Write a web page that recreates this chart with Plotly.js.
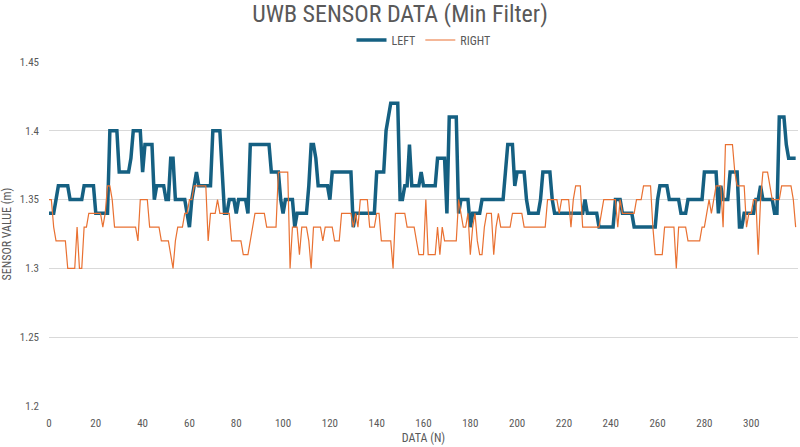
<!DOCTYPE html>
<html>
<head>
<meta charset="utf-8">
<script src="https://cdn.plot.ly/plotly-3.0.1.min.js"></script>
<style>
html,body{margin:0;padding:0;background:#fff;}
#chart{width:800px;height:447px;}
</style>
</head>
<body>
<div id="chart"></div>
<script>
// Series values (m), one per sample index
const leftValues = [
1.34,1.34,1.34,1.35,1.36,1.36,1.36,1.36,1.36,1.35,
1.35,1.35,1.35,1.35,1.35,1.36,1.36,1.36,1.36,1.36,
1.34,1.34,1.34,1.34,1.34,1.34,1.40,1.40,1.40,1.40,
1.37,1.37,1.37,1.37,1.37,1.38,1.40,1.40,1.40,1.40,
1.37,1.39,1.39,1.39,1.39,1.35,1.36,1.36,1.36,1.36,
1.35,1.35,1.38,1.38,1.35,1.35,1.35,1.35,1.35,1.34,
1.33,1.35,1.36,1.37,1.36,1.36,1.36,1.36,1.36,1.36,
1.40,1.40,1.40,1.40,1.37,1.34,1.34,1.35,1.35,1.35,
1.34,1.35,1.35,1.35,1.35,1.34,1.39,1.39,1.39,1.39,
1.39,1.39,1.39,1.39,1.39,1.37,1.37,1.37,1.37,1.35,
1.34,1.35,1.35,1.35,1.35,1.33,1.34,1.34,1.34,1.34,
1.34,1.36,1.39,1.39,1.38,1.36,1.36,1.36,1.36,1.36,
1.35,1.37,1.37,1.37,1.37,1.37,1.37,1.37,1.37,1.37,
1.33,1.34,1.34,1.34,1.34,1.34,1.34,1.34,1.34,1.34,
1.37,1.37,1.37,1.37,1.40,1.41,1.42,1.42,1.42,1.42,
1.35,1.35,1.36,1.36,1.39,1.36,1.36,1.36,1.36,1.37,
1.36,1.36,1.36,1.36,1.36,1.36,1.38,1.38,1.38,1.38,
1.34,1.41,1.41,1.41,1.41,1.34,1.35,1.35,1.35,1.35,
1.33,1.34,1.34,1.34,1.34,1.35,1.35,1.35,1.35,1.35,
1.35,1.35,1.35,1.35,1.35,1.37,1.39,1.39,1.39,1.36,
1.37,1.37,1.37,1.37,1.35,1.34,1.34,1.34,1.34,1.34,
1.35,1.37,1.37,1.37,1.37,1.35,1.34,1.34,1.34,1.34,
1.34,1.34,1.34,1.34,1.34,1.34,1.34,1.34,1.34,1.35,
1.34,1.34,1.34,1.34,1.34,1.33,1.33,1.33,1.33,1.33,
1.33,1.33,1.35,1.35,1.35,1.34,1.34,1.34,1.34,1.34,
1.33,1.33,1.33,1.33,1.33,1.33,1.33,1.33,1.33,1.33,
1.35,1.36,1.36,1.36,1.36,1.35,1.35,1.35,1.35,1.35,
1.34,1.34,1.34,1.35,1.35,1.35,1.35,1.35,1.35,1.35,
1.37,1.37,1.37,1.37,1.37,1.37,1.34,1.36,1.35,1.35,
1.35,1.37,1.37,1.37,1.37,1.33,1.33,1.34,1.34,1.34,
1.34,1.34,1.35,1.35,1.36,1.35,1.35,1.35,1.35,1.35,
1.34,1.34,1.41,1.41,1.41,1.39,1.38,1.38,1.38,1.38
];

const rightValues = [
1.35,1.35,1.33,1.32,1.32,1.32,1.32,1.32,1.30,1.30,
1.30,1.30,1.33,1.30,1.30,1.33,1.33,1.34,1.34,1.34,
1.34,1.34,1.34,1.33,1.34,1.36,1.36,1.35,1.33,1.33,
1.33,1.33,1.33,1.33,1.33,1.33,1.33,1.33,1.32,1.35,
1.35,1.35,1.35,1.33,1.33,1.33,1.33,1.33,1.32,1.32,
1.32,1.32,1.31,1.30,1.32,1.33,1.33,1.33,1.34,1.34,
1.35,1.35,1.36,1.36,1.36,1.36,1.36,1.36,1.32,1.34,
1.34,1.34,1.35,1.34,1.34,1.34,1.34,1.34,1.32,1.32,
1.32,1.32,1.32,1.31,1.31,1.31,1.32,1.33,1.34,1.34,
1.34,1.34,1.34,1.33,1.33,1.33,1.33,1.33,1.37,1.37,
1.37,1.37,1.37,1.30,1.33,1.33,1.33,1.31,1.33,1.33,
1.33,1.32,1.30,1.33,1.33,1.33,1.33,1.32,1.33,1.33,
1.33,1.33,1.32,1.32,1.32,1.34,1.34,1.34,1.34,1.34,
1.33,1.34,1.33,1.35,1.35,1.35,1.35,1.33,1.33,1.33,
1.34,1.34,1.32,1.32,1.32,1.32,1.32,1.30,1.34,1.34,
1.34,1.34,1.34,1.33,1.33,1.33,1.33,1.32,1.31,1.31,
1.31,1.35,1.31,1.31,1.31,1.31,1.33,1.31,1.33,1.32,
1.32,1.32,1.32,1.32,1.32,1.35,1.34,1.33,1.33,1.34,
1.31,1.33,1.34,1.32,1.31,1.31,1.33,1.34,1.34,1.34,
1.31,1.33,1.34,1.33,1.33,1.33,1.33,1.33,1.34,1.34,
1.34,1.34,1.34,1.33,1.33,1.33,1.33,1.33,1.33,1.33,
1.33,1.33,1.33,1.35,1.35,1.35,1.35,1.35,1.34,1.35,
1.35,1.35,1.35,1.33,1.35,1.36,1.36,1.36,1.33,1.33,
1.33,1.33,1.33,1.33,1.33,1.33,1.34,1.35,1.35,1.35,
1.35,1.35,1.35,1.33,1.35,1.34,1.34,1.34,1.34,1.34,
1.34,1.35,1.35,1.35,1.36,1.36,1.36,1.36,1.33,1.31,
1.31,1.31,1.31,1.33,1.33,1.33,1.33,1.33,1.30,1.33,
1.33,1.33,1.33,1.32,1.32,1.32,1.32,1.32,1.32,1.33,
1.33,1.34,1.35,1.34,1.35,1.36,1.36,1.36,1.33,1.39,
1.39,1.39,1.39,1.37,1.36,1.36,1.36,1.36,1.33,1.34,
1.34,1.35,1.35,1.31,1.35,1.37,1.37,1.37,1.36,1.35,
1.35,1.35,1.35,1.36,1.36,1.36,1.36,1.36,1.35,1.33
];

const seriesNames = ["LEFT", "RIGHT"];
const xTickValues = [0,20,40,60,80,100,120,140,160,180,200,220,240,260,280,300];
const yTickValues = [1.2,1.25,1.3,1.35,1.4,1.45];
const yTickLabels = ["1.2","1.25","1.3","1.35","1.4","1.45"];

const sampleIndex = leftValues.map((_, i) => i);

const FONT = "'Liberation Sans Narrow', 'Roboto Condensed', 'Arial Narrow', Roboto, sans-serif";
const GREY = "#595959";

const traces = [
  {
    x: sampleIndex, y: leftValues, name: seriesNames[0],
    type: "scatter", mode: "lines",
    line: {color: "#156082", width: 3.5}
  },
  {
    x: sampleIndex, y: rightValues, name: seriesNames[1],
    type: "scatter", mode: "lines",
    line: {color: "#E97132", width: 1.2}
  }
];

const layout = {
  width: 800, height: 447,
  margin: {l: 49, r: 2, t: 62, b: 41},
  paper_bgcolor: "#ffffff", plot_bgcolor: "#ffffff",
  font: {family: FONT, color: GREY, size: 11},
  title: {
    text: "UWB SENSOR DATA (Min Filter)",
    x: 0.5, xanchor: "center",
    y: 0.97, yanchor: "middle", yref: "container",
    font: {family: FONT, size: 24, color: GREY}
  },
  showlegend: true,
  legend: {
    orientation: "h", x: 0.5, xanchor: "center",
    y: 1.064, yanchor: "middle",
    font: {family: FONT, size: 12, color: GREY},
    itemwidth: 30, tracegroupgap: 0
  },
  xaxis: {
    range: [0, 320],
    tickmode: "array", tickvals: xTickValues,
    showgrid: false, zeroline: false, showline: false,
    ticks: "", ticklabelstandoff: 9,
    tickfont: {family: FONT, size: 11, color: GREY},
    title: {text: "DATA (N)", font: {family: FONT, size: 12, color: GREY}, standoff: 4}
  },
  yaxis: {
    range: [1.2, 1.45],
    tickmode: "array", tickvals: yTickValues, ticktext: yTickLabels,
    showgrid: true, gridcolor: "#d9d9d9", gridwidth: 1,
    zeroline: false, showline: false, ticks: "", ticklabelstandoff: 9,
    tickfont: {family: FONT, size: 11, color: GREY},
    title: {text: "SENSOR VALUE (m)", font: {family: FONT, size: 12, color: GREY}, standoff: 6}
  }
};

Plotly.newPlot("chart", traces, layout, {staticPlot: true, displayModeBar: false});
</script>
</body>
</html>
